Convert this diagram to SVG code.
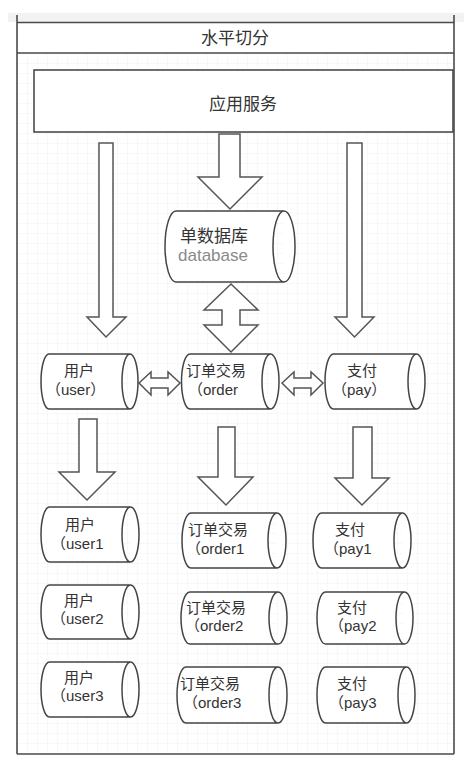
<svg xmlns="http://www.w3.org/2000/svg" width="469" height="762" viewBox="0 0 469 762">
<defs>
<pattern id="grid" width="10" height="10" patternUnits="userSpaceOnUse" x="17" y="53">
<path d="M10 0 L0 0 0 10" fill="none" stroke="#f1f1f1" stroke-width="1"/>
</pattern>
<style>
.ln{fill:none;stroke:#4a4a4a;stroke-width:1.6}
.box{fill:#fff;stroke:#4a4a4a;stroke-width:1.6}
.arr{fill:#fff;stroke:#555;stroke-width:1.5;stroke-linejoin:miter}
.cyl{fill:#fff;stroke:#444;stroke-width:1.5}
.t{font-family:"Liberation Sans","Noto Sans CJK SC",sans-serif;font-size:17px;fill:#333}
.s{font-size:15px}
.g{fill:#8a8a8a}
</style>
</defs>
<rect x="0" y="0" width="469" height="762" fill="#fff"/>
<rect x="8" y="13" width="456" height="9" fill="#f2f2f2"/>
<rect x="17" y="53" width="437" height="701" fill="url(#grid)"/>
<g id="container">
<line class="ln" x1="17" y1="15" x2="17" y2="754"/>
<line class="ln" x1="454" y1="15" x2="454" y2="754"/>
<line class="ln" x1="17" y1="22.5" x2="454" y2="22.5"/>
<line class="ln" x1="17" y1="53" x2="454" y2="53"/>
<line class="ln" x1="17" y1="754" x2="454" y2="754"/>
<text class="t" x="235" y="44" text-anchor="middle">水平切分</text>
</g>
<g id="app">
<rect class="box" x="34" y="70" width="419" height="62"/>
<text class="t" x="243" y="110" text-anchor="middle" font-size="18">应用服务</text>
</g>
<g id="connectors">
<polygon class="arr" points="99,143 113,143 113,317 126,317 106,337 87,317 99,317"/>
<polygon class="arr" points="347,143 362,143 362,317 374,317 354.5,337 335,317 347,317"/>
<polygon class="arr" points="219,134 240,134 240,177 262,177 230,209 198,177 219,177"/>
<polygon class="arr" points="231,284 258,310 240,310 240,325 258,325 231,352 204,325 222,325 222,310 204,310"/>
<polygon class="arr" points="139,383 151,372 151,378 168,378 168,372 180,383 168,395 168,388 151,388 151,395"/>
<polygon class="arr" points="282,383 294,372 294,378 311,378 311,372 323,383 311,395 311,388 294,388 294,395"/>
<polygon class="arr" points="79,419 97,419 97,472 115,472 87,500 59,472 79,472"/>
<polygon class="arr" points="218,427 235,427 235,477 253,477 226,505 198,477 218,477"/>
<polygon class="arr" points="353,427 372,427 372,478 389,478 362,505 335,478 353,478"/>
</g>
<g id="db">
<path class="cyl" d="M176,211 L284,211 A11,35.5 0 0 1 284,282 L176,282 A11,35.5 0 0 1 176,211 Z M284,211 A11,35.5 0 0 0 284,282"/>
<text class="t" x="180" y="242" font-size="18">单数据库</text>
<text class="t g" x="178" y="261" font-size="18">database</text>
</g>
<g id="user">
<path class="cyl" d="M49,354 L130,354 A8,27.5 0 0 1 130,409 L49,409 A8,27.5 0 0 1 49,354 Z M130,354 A8,27.5 0 0 0 130,409"/>
<text class="t s" x="64" y="376">用户</text>
<text class="t s" x="46" y="395">（user）</text>
</g>
<g id="order">
<path class="cyl" d="M190,354 L270.5,354 A8.5,27.5 0 0 1 270.5,409 L190,409 A8.5,27.5 0 0 1 190,354 Z M270.5,354 A8.5,27.5 0 0 0 270.5,409"/>
<text class="t s" x="186" y="376">订单交易</text>
<text class="t s" x="188" y="395">（order</text>
</g>
<g id="pay">
<path class="cyl" d="M333.5,354 L416.5,354 A8.5,27.5 0 0 1 416.5,409 L333.5,409 A8.5,27.5 0 0 1 333.5,354 Z M416.5,354 A8.5,27.5 0 0 0 416.5,409"/>
<text class="t s" x="347" y="376">支付</text>
<text class="t s" x="332" y="395">（pay）</text>
</g>
<g id="user1">
<path class="cyl" d="M49.5,507 L130.5,507 A8.5,27.5 0 0 1 130.5,562 L49.5,562 A8.5,27.5 0 0 1 49.5,507 Z M130.5,507 A8.5,27.5 0 0 0 130.5,562"/>
<text class="t s" x="65" y="530">用户</text>
<text class="t s" x="51" y="549">（user1</text>
</g>
<g id="order1">
<path class="cyl" d="M191,513 L277,513 A9,27.5 0 0 1 277,568 L191,568 A9,27.5 0 0 1 191,513 Z M277,513 A9,27.5 0 0 0 277,568"/>
<text class="t s" x="188" y="535">订单交易</text>
<text class="t s" x="186" y="554">（order1</text>
</g>
<g id="pay1">
<path class="cyl" d="M321.5,513 L402.5,513 A8.5,27.5 0 0 1 402.5,568 L321.5,568 A8.5,27.5 0 0 1 321.5,513 Z M402.5,513 A8.5,27.5 0 0 0 402.5,568"/>
<text class="t s" x="335" y="535">支付</text>
<text class="t s" x="324" y="554">（pay1</text>
</g>
<g id="user2">
<path class="cyl" d="M49.5,585 L130.5,585 A8.5,27 0 0 1 130.5,639 L49.5,639 A8.5,27 0 0 1 49.5,585 Z M130.5,585 A8.5,27 0 0 0 130.5,639"/>
<text class="t s" x="64" y="606">用户</text>
<text class="t s" x="51" y="624">（user2</text>
</g>
<g id="order2">
<path class="cyl" d="M190,592 L278,592 A9,26 0 0 1 278,644 L190,644 A9,26 0 0 1 190,592 Z M278,592 A9,26 0 0 0 278,644"/>
<text class="t s" x="186" y="613">订单交易</text>
<text class="t s" x="185" y="631">（order2</text>
</g>
<g id="pay2">
<path class="cyl" d="M325.5,592 L404.5,592 A8.5,26 0 0 1 404.5,644 L325.5,644 A8.5,26 0 0 1 325.5,592 Z M404.5,592 A8.5,26 0 0 0 404.5,644"/>
<text class="t s" x="337" y="613">支付</text>
<text class="t s" x="329" y="631">（pay2</text>
</g>
<g id="user3">
<path class="cyl" d="M49.5,662 L130.5,662 A8.5,27.5 0 0 1 130.5,717 L49.5,717 A8.5,27.5 0 0 1 49.5,662 Z M130.5,662 A8.5,27.5 0 0 0 130.5,717"/>
<text class="t s" x="64" y="683">用户</text>
<text class="t s" x="51" y="701">（user3</text>
</g>
<g id="order3">
<path class="cyl" d="M186,667 L278,667 A9,28 0 0 1 278,723 L186,723 A9,28 0 0 1 186,667 Z M278,667 A9,28 0 0 0 278,723"/>
<text class="t s" x="180" y="689">订单交易</text>
<text class="t s" x="183" y="708">（order3</text>
</g>
<g id="pay3">
<path class="cyl" d="M325.5,667 L406.5,667 A8.5,28 0 0 1 406.5,723 L325.5,723 A8.5,28 0 0 1 325.5,667 Z M406.5,667 A8.5,28 0 0 0 406.5,723"/>
<text class="t s" x="337" y="689">支付</text>
<text class="t s" x="329" y="708">（pay3</text>
</g>
</svg>
